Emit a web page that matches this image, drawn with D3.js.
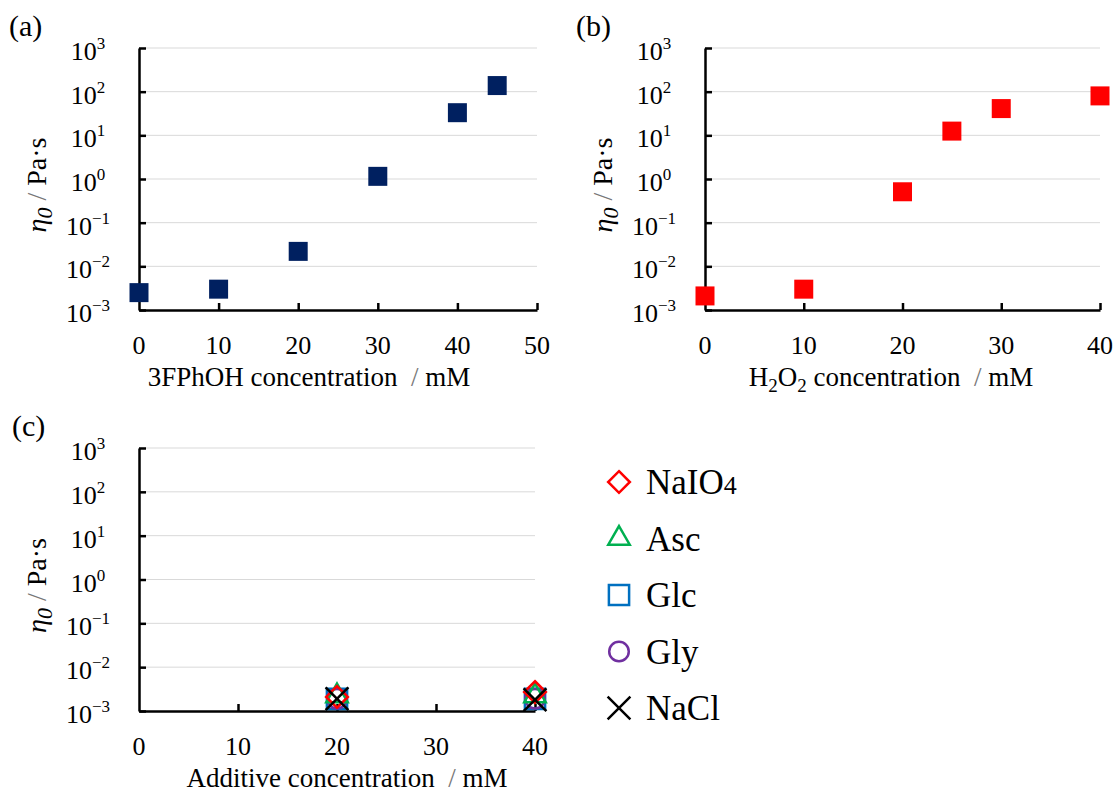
<!DOCTYPE html>
<html lang="en">
<head>
<meta charset="UTF-8">
<title>Zero-shear viscosity</title>
<script src="https://d3js.org/d3.v7.min.js"></script>
<style>
  body { margin: 0; background: #fff; }
</style>
</head>
<body>
<svg width="1113" height="796" font-family="'Liberation Serif', 'DejaVu Serif', serif"></svg>
<script>
// ---- data ----
const yExps = [-3, -2, -1, 0, 1, 2, 3];

const aConc = [0, 10, 20, 30, 40, 45];
const aEta = [0.0025, 0.003, 0.022, 1.15, 33, 138];
const aTicks = [0, 10, 20, 30, 40, 50];

const bConc = [0, 10, 20, 25, 30, 40];
const bEta = [0.0021, 0.003, 0.51, 12.5, 41, 80];
const bTicks = [0, 10, 20, 30, 40];

const cConc = [20, 40];
const cTicks = [0, 10, 20, 30, 40];
const cNames = ["NaIO4", "Asc", "Glc", "Gly", "NaCl"];
const cEta = [
  [0.0021, 0.0027],
  [0.0022, 0.0022],
  [0.0019, 0.0019],
  [0.0019, 0.0019],
  [0.0019, 0.0018]
];

const cColors = ["#ff0000", "#00b050", "#0070c0", "#7030a0", "#000000"];
const cSymbols = [d3.symbolDiamond2, d3.symbolTriangle2, d3.symbolSquare2, d3.symbolCircle, d3.symbolX];
const cSizes = [300, 330, 520, 300, 340];

const svg = d3.select("svg");

function panel(p) {
  const g = svg.append("g");
  const x = d3.scaleLinear().domain(p.xDomain).range([p.left, p.right]);
  const y = d3.scaleLog().domain([1e-3, 1e3]).range([p.bottom, p.top]);

  // gridlines
  g.selectAll(".grid").data(yExps.filter(e => e > -3)).join("line")
    .attr("x1", p.left).attr("x2", p.right)
    .attr("y1", d => y(Math.pow(10, d))).attr("y2", d => y(Math.pow(10, d)))
    .attr("stroke", "#d9d9d9").attr("stroke-width", 1);

  // y axis (ticks pointing inside)
  const ya = g.append("g").attr("transform", `translate(${p.left},0)`)
    .call(d3.axisRight(y).tickValues(yExps.map(e => Math.pow(10, e))).tickSize(7).tickSizeOuter(0).tickFormat(""));
  ya.select(".domain").attr("stroke-width", 2.5);
  ya.selectAll(".tick line").attr("stroke-width", 2.5);

  // x axis (ticks pointing up)
  const xa = g.append("g").attr("transform", `translate(0,${p.bottom})`)
    .call(d3.axisTop(x).tickValues(p.ticks.filter(t => t > 0)).tickSize(7).tickSizeOuter(0).tickFormat(""));
  xa.select(".domain").attr("stroke-width", 2.5);
  xa.selectAll(".tick line").attr("stroke-width", 2.5);

  // y tick labels 10^n
  const yl = g.selectAll(".ylab").data(yExps).join("text")
    .attr("x", p.left - 51).attr("y", d => y(Math.pow(10, d)) + 12)
    .attr("text-anchor", "middle").attr("font-size", 26);
  yl.append("tspan").text("10");
  yl.append("tspan").attr("dy", -11).attr("font-size", 17)
    .text(d => d < 0 ? "\u2212" + (-d) : String(d));

  // x tick labels
  g.selectAll(".xlab").data(p.ticks).join("text")
    .attr("x", d => x(d)).attr("y", p.bottom + 44)
    .attr("text-anchor", "middle").attr("font-size", 26)
    .text(d => d);

  // y title
  const yt = g.append("text")
    .attr("transform", `translate(${p.left - 93},${(p.top + p.bottom) / 2 + 6}) rotate(-90)`)
    .attr("text-anchor", "middle").attr("font-size", 28);
  yt.append("tspan").attr("font-style", "italic").text("\u03b7");
  yt.append("tspan").attr("dy", 6).attr("font-size", 22).attr("font-style", "italic").text("0");
  yt.append("tspan").attr("dy", -6).attr("fill", "#777").text(" / ");
  yt.append("tspan").text("Pa\u00b7s");

  // x title
  const xt = g.append("text")
    .attr("x", p.titleX).attr("y", p.bottom + 76)
    .attr("text-anchor", "middle").attr("font-size", 27)
    .style("white-space", "pre");
  p.xTitle.forEach(part => {
    const t = xt.append("tspan").text(part.t);
    if (part.sub) t.attr("dy", 6).attr("font-size", 19);
    if (part.back) t.attr("dy", -6);
    if (part.gray) t.attr("fill", "#777");
  });

  // panel letter
  g.append("text").attr("x", p.letterX).attr("y", p.top - 12)
    .attr("font-size", 30).text(p.letter);

  return { g, x, y };
}

// (a)
const pa = panel({
  left: 139, right: 537, top: 48, bottom: 310, xDomain: [0, 50], ticks: aTicks,
  titleX: 309, letter: "(a)", letterX: 9,
  xTitle: [{ t: "3FPhOH concentration  " }, { t: "/", gray: true }, { t: " mM" }]
});
pa.g.selectAll(".pt").data(aConc).join("path")
  .attr("transform", (d, i) => `translate(${pa.x(d)},${pa.y(aEta[i])})`)
  .attr("d", d3.symbol(d3.symbolSquare, 361))
  .attr("fill", "#002060");

// (b)
const pb = panel({
  left: 705, right: 1100, top: 48, bottom: 310, xDomain: [0, 40], ticks: bTicks,
  titleX: 891, letter: "(b)", letterX: 576,
  xTitle: [{ t: "H" }, { t: "2", sub: true }, { t: "O", back: true }, { t: "2", sub: true },
           { t: " concentration  ", back: true }, { t: "/", gray: true }, { t: " mM" }]
});
pb.g.selectAll(".pt").data(bConc).join("path")
  .attr("transform", (d, i) => `translate(${pb.x(d)},${pb.y(bEta[i])})`)
  .attr("d", d3.symbol(d3.symbolSquare, 361))
  .attr("fill", "#ff0000");

// (c)
const pc = panel({
  left: 139, right: 535, top: 448, bottom: 711, xDomain: [0, 40], ticks: cTicks,
  titleX: 347, letter: "(c)", letterX: 12,
  xTitle: [{ t: "Additive concentration  " }, { t: "/", gray: true }, { t: " mM" }]
});
const order = [2, 3, 1, 0, 4];
order.forEach(k => {
  pc.g.selectAll(".s" + k).data(cConc).join("path")
    .attr("transform", (d, i) => `translate(${pc.x(d)},${pc.y(cEta[k][i])})`)
    .attr("d", d3.symbol(cSymbols[k], cSizes[k]))
    .attr("fill", "none").attr("stroke", cColors[k]).attr("stroke-width", 2.5);
});

// legend
const leg = svg.append("g").attr("transform", "translate(619,482)");
cNames.forEach((name, k) => {
  const row = leg.append("g").attr("transform", `translate(0,${k * 56.5})`);
  row.append("path").attr("d", d3.symbol(cSymbols[k], cSizes[k]))
    .attr("fill", "none").attr("stroke", cColors[k]).attr("stroke-width", 2.5);
  const t = row.append("text").attr("x", 27).attr("y", 12).attr("font-size", 35);
  if (name === "NaIO4") {
    t.append("tspan").text("NaIO");
    t.append("tspan").attr("font-size", 26).text("4");
  } else {
    t.text(name);
  }
});
</script>
</body>
</html>
